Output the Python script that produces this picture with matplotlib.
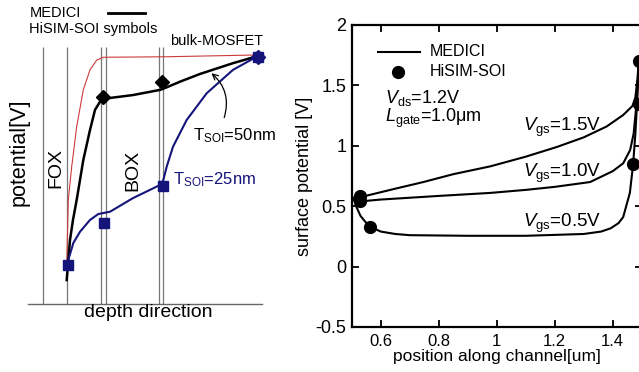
import matplotlib
matplotlib.use("Agg")
import matplotlib.pyplot as plt
from matplotlib.ticker import FuncFormatter

plt.rcParams['font.family'] = ['Liberation Sans', 'DejaVu Sans']
plt.rcParams['mathtext.fontset'] = 'custom'
plt.rcParams['mathtext.rm'] = 'Liberation Sans'
plt.rcParams['mathtext.it'] = 'Liberation Sans:italic'
plt.rcParams['axes.unicode_minus'] = False

# ---- left panel: schematic potential along depth (arbitrary units) ----
region_lines = [0.63, 1.65, 3.12, 3.33, 5.58, 5.75]

bulk_x = [1.654, 1.722, 1.868, 2.081, 2.363, 2.650, 2.936, 3.218, 5.927, 9.829]
bulk_y = [0.152, 0.405, 0.534, 0.690, 0.833, 0.911, 0.949, 0.960, 0.962, 0.969]

t50_x = [1.654, 1.795, 1.923, 2.081, 2.222, 2.363, 2.650, 2.863, 3.077, 3.363,
         4.487, 5.641, 5.927, 6.496, 7.350, 8.761, 9.829]
t50_y = [0.093, 0.249, 0.327, 0.405, 0.482, 0.560, 0.677, 0.755, 0.787, 0.800,
         0.813, 0.833, 0.843, 0.865, 0.895, 0.937, 0.965]
t50_sym_x = [3.192, 5.714]
t50_sym_y = [0.807, 0.865]

t25_x = [1.697, 1.722, 1.936, 2.222, 2.650, 3.004, 3.504, 4.487, 5.641, 5.782,
         5.927, 6.197, 6.782, 7.637, 8.761, 9.829]
t25_y = [0.148, 0.171, 0.237, 0.281, 0.327, 0.350, 0.359, 0.412, 0.463, 0.482,
         0.534, 0.612, 0.716, 0.820, 0.911, 0.965]
t25_sym_x = [1.697, 3.261, 5.756]
t25_sym_y = [0.152, 0.314, 0.459]

end_x = [9.829]
end_y = [0.962]

# ---- right panel: surface potential along channel ----
x15 = [0.515, 0.53, 0.556, 0.65, 0.747, 0.85, 0.978, 1.1, 1.207, 1.3, 1.379,
       1.436, 1.468, 1.478, 1.485, 1.49]
y15 = [0.56, 0.575, 0.59, 0.645, 0.70, 0.765, 0.83, 0.91, 0.99, 1.07, 1.16,
       1.255, 1.33, 1.40, 1.55, 1.70]
x10 = [0.515, 0.53, 0.6, 0.7, 0.8, 0.978, 1.1, 1.2, 1.322, 1.40, 1.436, 1.46,
       1.472, 1.48, 1.487, 1.49]
y10 = [0.53, 0.54, 0.555, 0.57, 0.585, 0.61, 0.635, 0.66, 0.70, 0.79, 0.855,
       0.965, 1.10, 1.30, 1.55, 1.70]
x05 = [0.505, 0.515, 0.53, 0.547, 0.563, 0.6, 0.65, 0.7, 0.9, 1.1, 1.3, 1.36,
       1.393, 1.42, 1.436, 1.459, 1.47, 1.478, 1.485, 1.49]
y05 = [0.57, 0.50, 0.42, 0.37, 0.33, 0.29, 0.27, 0.26, 0.255, 0.255, 0.27, 0.29,
       0.317, 0.36, 0.41, 0.61, 0.84, 1.10, 1.40, 1.70]
hisim_x = [0.53, 0.53, 0.563, 1.49, 1.49, 1.47]
hisim_y = [0.585, 0.545, 0.33, 1.70, 1.35, 0.85]

xticks = [0.6, 0.8, 1.0, 1.2, 1.4]
yticks = [-0.5, 0, 0.5, 1, 1.5, 2]

navy = '#14147a'
red = '#cc3b3b'

fig = plt.figure(figsize=(6.39, 3.72), dpi=100)

# left schematic
ax1 = fig.add_axes([0.0438, 0.1828, 0.3662, 0.6909])
ax1.set_xlim(0, 10)
ax1.set_ylim(0, 1)
for s in ['left', 'top', 'right']:
    ax1.spines[s].set_visible(False)
ax1.spines['bottom'].set_color('#666666')
ax1.spines['bottom'].set_linewidth(1.0)
ax1.set_xticks([])
ax1.set_yticks([])
ax1.vlines(region_lines, 0, 1, color='#777777', lw=0.9)

ax1.plot(bulk_x, bulk_y, color=red, lw=0.8)
ax1.plot(t50_x, t50_y, color='black', lw=1.8)
ax1.plot(t25_x, t25_y, color=navy, lw=1.5)
ax1.plot(t50_sym_x, t50_sym_y, 'D', color='black', ms=7)
ax1.plot(t25_sym_x, t25_sym_y, 's', color=navy, ms=6.5)
ax1.plot(end_x, end_y, 'D', color=navy, ms=7, clip_on=False)
ax1.plot(end_x, end_y, 's', color=navy, ms=6.5, clip_on=False)

ax1.text(1.2, 0.53, 'FOX', rotation=90, fontsize=14, ha='center', va='center')
ax1.text(4.47, 0.52, 'BOX', rotation=90, fontsize=14, ha='center', va='center')
ax1.text(-0.4, 0.59, 'potential[V]', rotation=90, fontsize=15.5,
         ha='center', va='center')
ax1.text(5.13, -0.035, 'depth direction', fontsize=14, ha='center', va='center')
ax1.text(7.05, 0.654, r'T$_{\mathrm{SOI}}$=50nm', fontsize=12, va='center')
ax1.text(6.2, 0.482, r'T$_{\mathrm{SOI}}$=25nm', fontsize=12, va='center',
         color=navy)
ax1.annotate('', xy=(7.75, 0.905), xytext=(8.35, 0.715),
             arrowprops=dict(arrowstyle='->', color='black', lw=0.9,
                             connectionstyle='arc3,rad=0.35'))

ax1.text(0.085, 1.132, 'MEDICI', fontsize=10.5, va='center')
ax1.plot([3.42, 5.0], [1.133, 1.133], color='black', lw=2, clip_on=False)
ax1.text(0.04, 1.07, 'HiSIM-SOI symbols', fontsize=10.5, va='center')
ax1.text(6.07, 1.023, 'bulk-MOSFET', fontsize=10.5, va='center')

# right chart
ax2 = fig.add_axes([0.5505, 0.1210, 0.4538, 0.8118])
ax2.plot(x15, y15, color='black', lw=1.5)
ax2.plot(x10, y10, color='black', lw=1.5)
ax2.plot(x05, y05, color='black', lw=1.5)
ax2.plot(hisim_x, hisim_y, 'o', color='black', ms=8.5, clip_on=False)
ax2.set_xlim(0.5, 1.5)
ax2.set_ylim(-0.5, 2)
ax2.set_xticks(xticks)
ax2.set_yticks(yticks)
fmt = FuncFormatter(lambda v, p: '%g' % v)
ax2.xaxis.set_major_formatter(fmt)
ax2.yaxis.set_major_formatter(fmt)
ax2.tick_params(direction='in', length=5, width=1.3, top=True, right=True,
                pad=5)
ax2.tick_params(axis='x', labelsize=12)
ax2.tick_params(axis='y', labelsize=13, pad=4)
for s in ax2.spines.values():
    s.set_linewidth(1.6)
ax2.set_xlabel('position along channel[um]', fontsize=12.5, labelpad=0)
ax2.set_ylabel('surface potential [V]', fontsize=13, labelpad=2)

ax2.plot([0.59, 0.735], [1.779, 1.779], color='black', lw=1.5)
ax2.plot([0.659], [1.613], 'o', color='black', ms=8.5)
ax2.text(0.77, 1.78, 'MEDICI', fontsize=11.5, va='center')
ax2.text(0.77, 1.613, 'HiSIM-SOI', fontsize=11.5, va='center')
ax2.text(0.615, 1.396, r'$V_{\rm ds}$=1.2V', fontsize=13, va='center')
ax2.text(0.615, 1.23, r'$L_{\rm gate}$=1.0μm', fontsize=13, va='center')
ax2.text(1.09, 1.15, r'$V_{\rm gs}$=1.5V', fontsize=13.5, va='center')
ax2.text(1.09, 0.775, r'$V_{\rm gs}$=1.0V', fontsize=13.5, va='center')
ax2.text(1.09, 0.36, r'$V_{\rm gs}$=0.5V', fontsize=13.5, va='center')

fig.savefig('out.png', dpi=100)
